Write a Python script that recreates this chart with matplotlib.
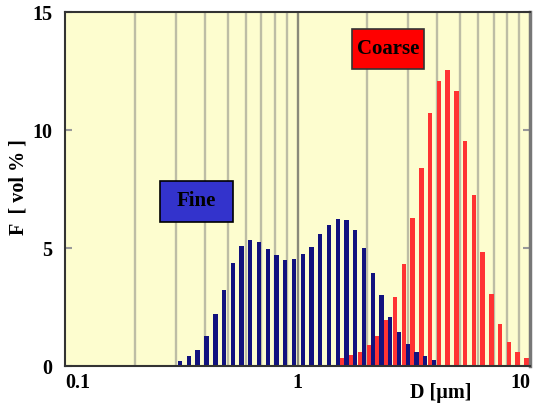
import numpy as np
import matplotlib
matplotlib.use('Agg')
from matplotlib import pyplot as plt
from matplotlib.patches import Rectangle

# Fine distribution (bin centers in um, vol %)
fine_d = [0.313, 0.341, 0.372, 0.406, 0.443, 0.483, 0.527, 0.574, 0.626, 0.683,
          0.745, 0.812, 0.886, 0.966, 1.053, 1.149, 1.253, 1.366, 1.490, 1.625,
          1.772, 1.932, 2.107, 2.298, 2.506, 2.733, 2.980, 3.250, 3.544, 3.865]
fine_f = [0.22, 0.42, 0.68, 1.27, 2.19, 3.20, 4.35, 5.10, 5.34, 5.27,
          4.94, 4.70, 4.49, 4.52, 4.73, 5.06, 5.58, 5.96, 6.25, 6.19,
          5.75, 4.98, 3.93, 3.00, 2.09, 1.45, 0.92, 0.61, 0.42, 0.25]

# Coarse distribution
coarse_d = [1.563, 1.704, 1.859, 2.027, 2.210, 2.410, 2.628, 2.866, 3.126, 3.409,
            3.717, 4.054, 4.421, 4.821, 5.257, 5.733, 6.252, 6.818, 7.435, 8.108,
            8.842, 9.642]
coarse_f = [0.32, 0.47, 0.61, 0.89, 1.27, 1.95, 2.91, 4.31, 6.26, 8.40,
            10.73, 12.09, 12.54, 11.67, 9.55, 7.25, 4.82, 3.04, 1.78, 1.03,
            0.58, 0.35]

grid_x = [0.2, 0.3, 0.4, 0.5, 0.6, 0.7, 0.8, 0.9, 2, 3, 4, 5, 6, 7, 8, 9]
xticks = [0.1, 1, 10]
xtick_labels = ['0.1', '1', '10']
yticks = [0, 5, 10, 15]

serif = ['Liberation Serif', 'DejaVu Serif']
fs = 14.5

fig = plt.figure(figsize=(5.36, 4.07), dpi=100)
ax = fig.add_axes([0.1213, 0.1007, 0.8675, 0.8698])
ax.set_facecolor('#fdfdcf')
ax.set_xscale('log')
ax.set_xlim(0.1, 10)
ax.set_ylim(0, 15)

# vertical grid lines
for g in grid_x:
    ax.axvline(g, color='#bdbda5', lw=1.7, zorder=1)
ax.axvline(1, color='#8a8a7a', lw=1.7, zorder=1)

# log-symmetric bar widths
half = 0.0095


def draw_bars(d, f, color):
    d = np.array(d)
    left = d * 10 ** (-half)
    width = d * (10 ** half - 10 ** (-half))
    ax.bar(left, f, width=width, align='edge', color=color, edgecolor='none', zorder=2)


draw_bars(coarse_d, coarse_f, '#ff3333')
draw_bars(fine_d, fine_f, '#12127e')

# ticks
ax.set_xticks(xticks)
ax.set_xticklabels(xtick_labels)
ax.xaxis.set_minor_locator(matplotlib.ticker.NullLocator())
ax.tick_params(axis='x', length=0, pad=5)
labs = ax.get_xticklabels()
labs[0].set_horizontalalignment('left')
labs[-1].set_horizontalalignment('right')
ax.set_yticks(yticks)
ax.tick_params(axis='y', direction='in', length=5, width=1.5, color='#999999',
               right=True, pad=9)
for lab in ax.get_xticklabels() + ax.get_yticklabels():
    lab.set_family(serif)
    lab.set_fontweight('bold')
    lab.set_fontsize(fs)

for s in ['left', 'bottom', 'top']:
    ax.spines[s].set_color('#333333')
    ax.spines[s].set_linewidth(1.5)
ax.spines['right'].set_color('#777777')
ax.spines['right'].set_linewidth(2.5)

# axis labels
fig.text(0.034, 0.54, 'F  [ vol % ]', rotation=90, ha='center', va='center',
         family=serif, fontweight='bold', fontsize=fs)
fig.text(0.823, 0.035, 'D [\u00b5m]', ha='center', va='center',
         family=serif, fontweight='bold', fontsize=fs)

# labelled boxes
ax.add_patch(Rectangle((0.204, 0.408), 0.157, 0.115, transform=ax.transAxes,
                       facecolor='#3333cc', edgecolor='black', lw=1.2, zorder=5))
ax.text(0.2825, 0.4655, 'Fine', transform=ax.transAxes, ha='center', va='center',
        family=serif, fontweight='bold', fontsize=15, zorder=6)
ax.add_patch(Rectangle((0.618, 0.839), 0.154, 0.113, transform=ax.transAxes,
                       facecolor='#ff0000', edgecolor='#333333', lw=1.2, zorder=5))
ax.text(0.695, 0.8955, 'Coarse', transform=ax.transAxes, ha='center', va='center',
        family=serif, fontweight='bold', fontsize=15, zorder=6)

plt.savefig('out.png', dpi=100)
